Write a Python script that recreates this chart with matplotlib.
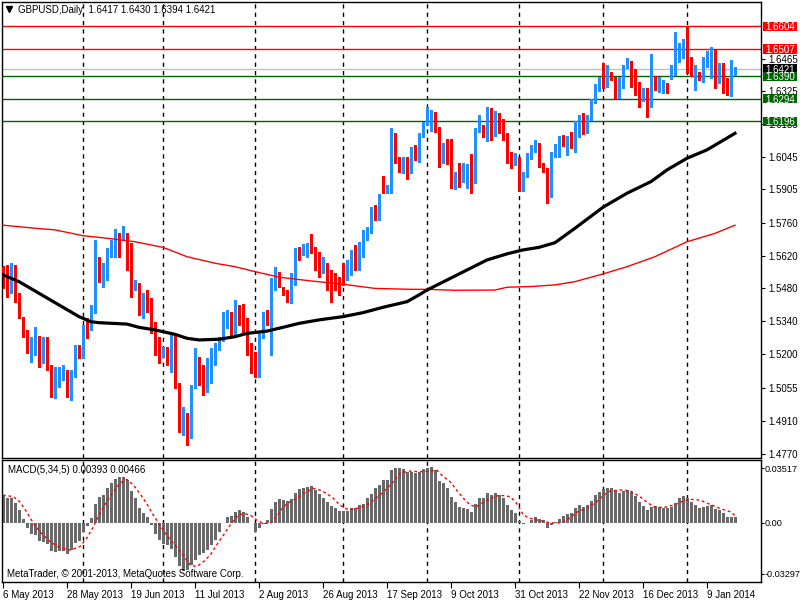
import matplotlib
matplotlib.use("Agg")
import matplotlib.pyplot as plt
import matplotlib.transforms as mtransforms
from matplotlib.patches import Rectangle
import numpy as np

plt.rcParams['font.family'] = ['Liberation Sans', 'DejaVu Sans']
plt.rcParams['font.size'] = 7
plt.rcParams['axes.unicode_minus'] = False

# daily GBPUSD candles, 6 May 2013 .. 20 Jan 2014
opens = [1.5573, 1.5538, 1.5473, 1.5538, 1.5445, 1.5349, 1.5297, 1.5209, 1.5216, 1.5273,
         1.5173, 1.5252, 1.5147, 1.5037, 1.5095, 1.5097, 1.5109, 1.5023, 1.5123, 1.5226,
         1.5190, 1.5313, 1.5309, 1.5399, 1.5580, 1.5533, 1.5566, 1.5642, 1.5673, 1.5713,
         1.5705, 1.5713, 1.5638, 1.5485, 1.5499, 1.5373, 1.5430, 1.5423, 1.5309, 1.5256,
         1.5202, 1.5194, 1.5144, 1.5273, 1.5066, 1.4873, 1.4940, 1.4859, 1.5056, 1.5176,
         1.5106, 1.5095, 1.5142, 1.5204, 1.5223, 1.5266, 1.5352, 1.5370, 1.5309, 1.5383,
         1.5377, 1.5337, 1.5230, 1.5198, 1.5109, 1.5280, 1.5352, 1.5345, 1.5485, 1.5533,
         1.5473, 1.5459, 1.5440, 1.5499, 1.5642, 1.5624, 1.5642, 1.5659, 1.5656, 1.5585,
         1.5566, 1.5577, 1.5545, 1.5528, 1.5505, 1.5555, 1.5538, 1.5552, 1.5621, 1.5580,
         1.5621, 1.5691, 1.5723, 1.5821, 1.5802, 1.5949, 1.5891, 1.5902, 1.6138, 1.6026,
         1.5995, 1.6038, 1.5998, 1.6074, 1.6031, 1.6138, 1.6181, 1.6188, 1.6231, 1.6159,
         1.6021, 1.6092, 1.6084, 1.5949, 1.5974, 1.5964, 1.5974, 1.5995, 1.5949, 1.6159,
         1.6169, 1.6142, 1.6231, 1.6159, 1.6198, 1.6174, 1.6138, 1.6045, 1.6031, 1.6038,
         1.5921, 1.5962, 1.6038, 1.6076, 1.6099, 1.6002, 1.5988, 1.5899, 1.6052, 1.6059,
         1.6119, 1.6099, 1.6116, 1.6102, 1.6174, 1.6224, 1.6149, 1.6209, 1.6284, 1.6334,
         1.6369, 1.6345, 1.6388, 1.6384, 1.6331, 1.6342, 1.6431, 1.6448, 1.6374, 1.6352,
         1.6291, 1.6295, 1.6259, 1.6388, 1.6334, 1.6334, 1.6357, 1.6384, 1.6407, 1.6474,
         1.6495, 1.6567, 1.6452, 1.6400, 1.6405, 1.6400, 1.6441, 1.6477, 1.6485, 1.6381,
         1.6438, 1.6369, 1.6348, 1.6417]
highs = [1.5576, 1.5580, 1.5588, 1.5580, 1.5459, 1.5359, 1.5302, 1.5273, 1.5316, 1.5276,
         1.5273, 1.5273, 1.5152, 1.5144, 1.5144, 1.5152, 1.5130, 1.5130, 1.5237, 1.5237,
         1.5323, 1.5352, 1.5409, 1.5688, 1.5616, 1.5588, 1.5652, 1.5688, 1.5733, 1.5716,
         1.5748, 1.5716, 1.5673, 1.5516, 1.5502, 1.5459, 1.5473, 1.5440, 1.5337, 1.5273,
         1.5230, 1.5230, 1.5280, 1.5280, 1.5073, 1.4973, 1.4944, 1.5066, 1.5223, 1.5187,
         1.5152, 1.5180, 1.5223, 1.5245, 1.5273, 1.5380, 1.5387, 1.5380, 1.5430, 1.5409,
         1.5413, 1.5352, 1.5245, 1.5209, 1.5295, 1.5380, 1.5387, 1.5523, 1.5573, 1.5552,
         1.5488, 1.5473, 1.5545, 1.5652, 1.5656, 1.5671, 1.5673, 1.5713, 1.5659, 1.5638,
         1.5616, 1.5590, 1.5559, 1.5548, 1.5530, 1.5588, 1.5602, 1.5645, 1.5666, 1.5680,
         1.5731, 1.5745, 1.5831, 1.5838, 1.5885, 1.5962, 1.5924, 1.6166, 1.6148, 1.6045,
         1.6045, 1.6045, 1.6088, 1.6095, 1.6145, 1.6195, 1.6257, 1.6245, 1.6238, 1.6174,
         1.6102, 1.6119, 1.6119, 1.5981, 1.6016, 1.6016, 1.6012, 1.6056, 1.6166, 1.6224,
         1.6181, 1.6257, 1.6252, 1.6242, 1.6231, 1.6207, 1.6145, 1.6066, 1.6059, 1.6045,
         1.5981, 1.6059, 1.6095, 1.6116, 1.6102, 1.6016, 1.5995, 1.6066, 1.6099, 1.6134,
         1.6138, 1.6134, 1.6152, 1.6199, 1.6224, 1.6234, 1.6224, 1.6291, 1.6357, 1.6388,
         1.6445, 1.6438, 1.6409, 1.6388, 1.6385, 1.6438, 1.6467, 1.6455, 1.6420, 1.6367,
         1.6338, 1.6338, 1.6485, 1.6391, 1.6388, 1.6374, 1.6359, 1.6438, 1.6581, 1.6531,
         1.6548, 1.6602, 1.6471, 1.6438, 1.6409, 1.6471, 1.6500, 1.6517, 1.6505, 1.6445,
         1.6445, 1.6381, 1.6460, 1.6430]
lows = [1.5480, 1.5445, 1.5459, 1.5423, 1.5352, 1.5273, 1.5202, 1.5166, 1.5194, 1.5144,
        1.5159, 1.5130, 1.5016, 1.5009, 1.5059, 1.5087, 1.5016, 1.5002, 1.5102, 1.5180,
        1.5180, 1.5266, 1.5302, 1.5373, 1.5509, 1.5488, 1.5516, 1.5616, 1.5616, 1.5613,
        1.5688, 1.5559, 1.5445, 1.5473, 1.5366, 1.5352, 1.5380, 1.5287, 1.5194, 1.5159,
        1.5187, 1.5152, 1.5123, 1.5051, 1.4866, 1.4851, 1.4809, 1.4837, 1.5051, 1.5066,
        1.5023, 1.5037, 1.5073, 1.5152, 1.5216, 1.5256, 1.5309, 1.5273, 1.5280, 1.5323,
        1.5287, 1.5194, 1.5116, 1.5102, 1.5102, 1.5266, 1.5323, 1.5194, 1.5473, 1.5488,
        1.5452, 1.5423, 1.5416, 1.5495, 1.5602, 1.5624, 1.5616, 1.5630, 1.5559, 1.5530,
        1.5545, 1.5473, 1.5423, 1.5473, 1.5452, 1.5495, 1.5516, 1.5538, 1.5559, 1.5559,
        1.5616, 1.5688, 1.5716, 1.5773, 1.5773, 1.5888, 1.5888, 1.5888, 1.6016, 1.5981,
        1.5974, 1.5949, 1.5976, 1.6031, 1.6021, 1.6131, 1.6181, 1.6155, 1.6152, 1.6002,
        1.6016, 1.6014, 1.5909, 1.5906, 1.5914, 1.5938, 1.5909, 1.5891, 1.5933, 1.6152,
        1.6131, 1.6112, 1.6116, 1.6134, 1.6145, 1.6116, 1.6019, 1.5995, 1.6009, 1.5899,
        1.5899, 1.5959, 1.6034, 1.6066, 1.6002, 1.5981, 1.5848, 1.5873, 1.6045, 1.6045,
        1.6091, 1.6052, 1.6081, 1.6066, 1.6131, 1.6142, 1.6145, 1.6202, 1.6274, 1.6328,
        1.6338, 1.6342, 1.6374, 1.6295, 1.6295, 1.6338, 1.6424, 1.6342, 1.6309, 1.6259,
        1.6285, 1.6217, 1.6257, 1.6331, 1.6324, 1.6317, 1.6319, 1.6377, 1.6395, 1.6452,
        1.6467, 1.6402, 1.6391, 1.6331, 1.6374, 1.6367, 1.6431, 1.6381, 1.6338, 1.6359,
        1.6319, 1.6309, 1.6305, 1.6394]
closes = [1.5530, 1.5459, 1.5538, 1.5452, 1.5359, 1.5295, 1.5212, 1.5223, 1.5273, 1.5159,
          1.5252, 1.5144, 1.5037, 1.5102, 1.5119, 1.5123, 1.5026, 1.5116, 1.5230, 1.5190,
          1.5316, 1.5306, 1.5405, 1.5580, 1.5552, 1.5569, 1.5642, 1.5676, 1.5716, 1.5702,
          1.5716, 1.5635, 1.5485, 1.5502, 1.5409, 1.5430, 1.5416, 1.5302, 1.5252, 1.5202,
          1.5213, 1.5173, 1.5273, 1.5066, 1.4880, 1.4940, 1.4859, 1.5059, 1.5180, 1.5102,
          1.5090, 1.5144, 1.5213, 1.5226, 1.5266, 1.5352, 1.5366, 1.5316, 1.5377, 1.5373,
          1.5337, 1.5230, 1.5194, 1.5109, 1.5287, 1.5352, 1.5345, 1.5488, 1.5530, 1.5495,
          1.5456, 1.5440, 1.5502, 1.5642, 1.5621, 1.5645, 1.5662, 1.5652, 1.5577, 1.5562,
          1.5577, 1.5538, 1.5523, 1.5495, 1.5499, 1.5538, 1.5555, 1.5619, 1.5580, 1.5628,
          1.5692, 1.5731, 1.5821, 1.5805, 1.5871, 1.5891, 1.5906, 1.6135, 1.6024, 1.6002,
          1.6038, 1.5995, 1.6076, 1.6035, 1.6138, 1.6185, 1.6192, 1.6228, 1.6159, 1.6006,
          1.6088, 1.6078, 1.5949, 1.5971, 1.5949, 1.5981, 1.5998, 1.5949, 1.6159, 1.6166,
          1.6138, 1.6228, 1.6159, 1.6205, 1.6159, 1.6134, 1.6041, 1.6031, 1.6045, 1.5921,
          1.5969, 1.6045, 1.6081, 1.6102, 1.6006, 1.5985, 1.5902, 1.6056, 1.6062, 1.6116,
          1.6105, 1.6119, 1.6099, 1.6195, 1.6217, 1.6152, 1.6217, 1.6284, 1.6342, 1.6369,
          1.6352, 1.6385, 1.6378, 1.6334, 1.6338, 1.6431, 1.6442, 1.6374, 1.6352, 1.6292,
          1.6298, 1.6259, 1.6388, 1.6374, 1.6374, 1.6355, 1.6345, 1.6407, 1.6470, 1.6495,
          1.6531, 1.6409, 1.6400, 1.6405, 1.6400, 1.6445, 1.6481, 1.6481, 1.6381, 1.6438,
          1.6367, 1.6348, 1.6409, 1.6421]

# moving averages, read at sample bars
ma_black_bars = [0, 4, 9, 14, 19, 22, 24, 31, 34, 38, 43, 46, 49, 54, 58, 61, 66, 69, 74, 79,
                 85, 90, 95, 101, 104, 106, 111, 116, 121, 126, 130, 134, 138, 143, 150, 156,
                 162, 166, 171, 176, 183]
ma_black = [1.5538, 1.5509, 1.5459, 1.5409, 1.5359, 1.5337, 1.5333, 1.5327, 1.5313, 1.5302,
            1.5283, 1.5266, 1.5259, 1.5262, 1.5273, 1.5287, 1.5297, 1.5309, 1.5330, 1.5345,
            1.5359, 1.5376, 1.5399, 1.5423, 1.5452, 1.5473, 1.5516, 1.5559, 1.5602, 1.5628,
            1.5645, 1.5656, 1.5676, 1.5738, 1.5828, 1.5888, 1.5938, 1.5988, 1.6038, 1.6074,
            1.6145]
ma_red_bars = [0, 8, 13, 20, 26, 33, 40, 46, 53, 58, 63, 67, 69, 77, 85, 93, 102, 106, 113, 123,
               126, 132, 138, 143, 150, 156, 163, 171, 178, 183]
ma_red = [1.5751, 1.5738, 1.5731, 1.5706, 1.5695, 1.5680, 1.5656, 1.5616, 1.5588, 1.5573,
          1.5552, 1.5536, 1.5528, 1.5512, 1.5498, 1.5480, 1.5476, 1.5476, 1.5472, 1.5473,
          1.5485, 1.5488, 1.5495, 1.5509, 1.5542, 1.5573, 1.5616, 1.5680, 1.5716, 1.5751]

# MACD(5,34,5)
macd_hist = [0.0178, 0.0161, 0.0161, 0.0125, 0.0082, 0.0022, -0.0037, -0.0073, -0.0080, -0.0116,
             -0.0127, -0.0140, -0.0183, -0.0187, -0.0183, -0.0183, -0.0200, -0.0176, -0.0133, -0.0118,
             -0.0058, -0.0022, 0.0028, 0.0118, 0.0168, 0.0178, 0.0226, 0.0254, 0.0282, 0.0292,
             0.0292, 0.0275, 0.0204, 0.0157, 0.0092, 0.0060, 0.0037, -0.0015, -0.0073, -0.0112,
             -0.0140, -0.0144, -0.0170, -0.0219, -0.0280, -0.0312, -0.0305, -0.0273, -0.0241, -0.0209,
             -0.0198, -0.0176, -0.0144, -0.0112, -0.0058, -0.0005, 0.0039, 0.0043, 0.0067, 0.0082,
             0.0071, 0.0039, -0.0004, -0.0062, -0.0032, -0.0011, 0.0017, 0.0088, 0.0135, 0.0151,
             0.0146, 0.0142, 0.0151, 0.0194, 0.0215, 0.0221, 0.0232, 0.0237, 0.0211, 0.0183,
             0.0161, 0.0135, 0.0108, 0.0092, 0.0075, 0.0075, 0.0075, 0.0092, 0.0097, 0.0114,
             0.0118, 0.0157, 0.0183, 0.0221, 0.0243, 0.0275, 0.0275, 0.0340, 0.0355, 0.0350,
             0.0344, 0.0325, 0.0329, 0.0318, 0.0329, 0.0346, 0.0355, 0.0361, 0.0340, 0.0269,
             0.0254, 0.0226, 0.0163, 0.0135, 0.0103, 0.0092, 0.0088, 0.0071, 0.0120, 0.0157,
             0.0161, 0.0189, 0.0178, 0.0189, 0.0178, 0.0157, 0.0114, 0.0082, 0.0060, 0.0011,
             -0.0011, -0.0004, 0.0015, 0.0034, 0.0024, 0.0015, -0.0037, -0.0015, 0.0002, 0.0022,
             0.0043, 0.0054, 0.0060, 0.0092, 0.0114, 0.0103, 0.0114, 0.0142, 0.0178, 0.0200,
             0.0217, 0.0221, 0.0221, 0.0211, 0.0189, 0.0204, 0.0211, 0.0196, 0.0174, 0.0135,
             0.0108, 0.0082, 0.0103, 0.0110, 0.0103, 0.0097, 0.0092, 0.0099, 0.0129, 0.0157,
             0.0174, 0.0161, 0.0135, 0.0114, 0.0092, 0.0103, 0.0108, 0.0114, 0.0086, 0.0082,
             0.0060, 0.0034, 0.0039, 0.00393]
signal_bars = [0, 2.6, 4.2, 5.9, 7.6, 9.2, 11.8, 14.2, 16.8, 19.2, 20.9, 22.6, 24.2, 25.9, 27.6,
               29.2, 30.9, 32.6, 34.2, 35.9, 37.6, 39.2, 40.9, 42.6, 44.7, 46.8, 48.4, 50.1, 51.8,
               53.4, 55.1, 56.8, 58.4, 60.1, 61.8, 63.4, 65.1, 66.8, 68.4, 70.1, 71.8, 73.4, 75.1,
               77.6, 79.2, 80.9, 82.6, 84.2, 85.9, 87.6, 89.2, 90.9, 92.6, 94.2, 95.9, 97.6, 99.2,
               101.8, 104.2, 106.8, 108.4, 110.1, 111.8, 113.4, 115.1, 116.8, 118.4, 120.1, 121.8,
               124.2, 126.8, 128.4, 130.1, 131.8, 134.2, 136.8, 138.4, 140.1, 141.8, 143.4, 145.9,
               148.4, 150.1, 151.8, 154.2, 156.8, 159.2, 160.9, 162.6, 165.1, 167.6, 170.1, 171.8,
               174.2, 176.8, 179.2, 181.8, 183]
signal = [0.0178, 0.0168, 0.0135, 0.0071, -0.0004, -0.0058, -0.0123, -0.0161, -0.0176, -0.0155,
          -0.0101, -0.0026, 0.0060, 0.0135, 0.0200, 0.0254, 0.0280, 0.0243, 0.0189, 0.0125,
          0.0049, -0.0015, -0.0080, -0.0133, -0.0198, -0.0273, -0.0284, -0.0252, -0.0209, -0.0144,
          -0.0080, -0.0015, 0.0039, 0.0060, 0.0049, 0.0017, -0.0004, -0.0004, 0.0039, 0.0103,
          0.0135, 0.0157, 0.0189, 0.0221, 0.0211, 0.0189, 0.0157, 0.0114, 0.0088, 0.0088,
          0.0097, 0.0114, 0.0146, 0.0178, 0.0221, 0.0264, 0.0320,
          0.0333, 0.0329, 0.0333, 0.0340, 0.0297, 0.0264, 0.0211, 0.0157, 0.0114, 0.0103,
          0.0131, 0.0157, 0.0178, 0.0168, 0.0125, 0.0049, 0.0028, 0.0013, 0.0000, -0.0004,
          0.0006, 0.0032, 0.0067, 0.0092, 0.0135, 0.0178, 0.0204, 0.0211, 0.0206, 0.0168,
          0.0135, 0.0103, 0.0097, 0.0114, 0.0140, 0.0151, 0.0146, 0.0118, 0.0092, 0.0071,
          0.00466]

# horizontal levels drawn on the chart
level_values = [1.6604, 1.6507, 1.6390, 1.6294, 1.6196]
level_colors = ['#FF0000', '#FF0000', '#006400', '#006400', '#006400']
last_price = 1.6421

price_ticks = [1.6465, 1.6325, 1.6185, 1.6045, 1.5905, 1.5760, 1.5620, 1.5480,
               1.5340, 1.5200, 1.5055, 1.4910, 1.4770]
macd_ticks = [0.03517, 0.0, -0.03297]
macd_tick_labels = ['0.03517', '0.00', '-0.03297']

month_start_bars = [20, 40, 63, 85, 106, 129, 150, 171]
date_bars = [0, 16, 32, 48, 64, 80, 96, 112, 128, 144, 160, 176]
date_labels = ['6 May 2013', '28 May 2013', '19 Jun 2013', '11 Jul 2013', '2 Aug 2013',
               '26 Aug 2013', '17 Sep 2013', '9 Oct 2013', '31 Oct 2013', '22 Nov 2013',
               '16 Dec 2013', '9 Jan 2014']

UP = '#1E90FF'
DOWN = '#FF0000'

fig = plt.figure(figsize=(8, 6), dpi=100)
ax = fig.add_axes([2 / 800, 142 / 600, 759 / 800, 456 / 600])
axm = fig.add_axes([2 / 800, 18 / 600, 759 / 800, 122 / 600])

o = np.array(opens)
h = np.array(highs)
l = np.array(lows)
c = np.array(closes)
x = np.arange(len(o))
cols = np.where(c >= o, UP, DOWN)

# levels behind the candles
for v, col in zip(level_values, level_colors):
    ax.axhline(v, color=col, lw=1, zorder=1)
ax.axhline(last_price, color='#C0C0C0', lw=1, zorder=1)

for b in month_start_bars:
    for a in (ax, axm):
        a.axvline(b, color='black', lw=1, ls=(0, (3, 3)), zorder=0.5)

ax.vlines(x, l, h, colors=cols, lw=1, zorder=2, antialiased=False)
body_lo = np.minimum(o, c)
body_h = np.maximum(np.abs(c - o), 0.0004)
ax.bar(x, body_h, bottom=body_lo, width=0.75, color=cols, linewidth=0, zorder=3,
       antialiased=False)

ax.plot(ma_red_bars, ma_red, color='#FF0000', lw=1, zorder=4)
ax.plot(ma_black_bars, ma_black, color='black', lw=2.3, zorder=4)

ax.set_xlim(-0.25, 189.5)
ax.set_ylim(1.47528, 1.6708)
ax.yaxis.tick_right()
ax.set_yticks(price_ticks)
ax.set_yticklabels([f'{v:.4f}' for v in price_ticks])
ax.tick_params(axis='y', direction='out', length=3, pad=2, labelsize=7)
ax.tick_params(axis='x', bottom=False, labelbottom=False)

# price boxes on the right scale
trans = mtransforms.blended_transform_factory(ax.transAxes, ax.transData)
boxes = [(last_price, 'black')] + list(zip(level_values, level_colors))
for v, col in boxes:
    ax.add_patch(Rectangle((1.0022, v - 0.0020), 0.0453, 0.0040, transform=trans,
                           facecolor=col, edgecolor='none', clip_on=False, zorder=6))
    ax.text(1.0058, v, f'{v:.4f}', transform=trans, color='white', ha='left',
            va='center_baseline', fontsize=7, zorder=7, clip_on=False)

# header
ax.plot([0.0095], [0.9848], marker='v', color='black', markersize=4.5,
        transform=ax.transAxes, clip_on=False)
fig.text(18 / 800, 1 - 10 / 600, 'GBPUSD,Daily  1.6417 1.6430 1.6394 1.6421',
         ha='left', va='center', fontsize=7)

# MACD window
axm.bar(x, macd_hist, width=0.75, color='#696969', linewidth=0, zorder=2, antialiased=False)
axm.plot(signal_bars, signal, color='#FF0000', lw=1, ls=(0, (2, 2)), zorder=3)
axm.set_xlim(-0.25, 189.5)
axm.set_ylim(-0.03826, 0.04045)
axm.yaxis.tick_right()
axm.set_yticks(macd_ticks)
axm.set_yticklabels(macd_tick_labels)
axm.tick_params(axis='y', direction='out', length=2, pad=0.5, labelsize=6.6)
axm.set_xticks(date_bars)
axm.set_xticklabels(date_labels)
axm.tick_params(axis='x', direction='out', length=4, pad=2, labelsize=7)
for lbl in axm.get_xticklabels():
    lbl.set_ha('left')

fig.text(8 / 800, 1 - 470 / 600, 'MACD(5,34,5) 0.00393 0.00466', ha='left', va='center',
         fontsize=7)
fig.text(7 / 800, 1 - 574 / 600, 'MetaTrader, \u00a9 2001-2013, MetaQuotes Software Corp.',
         ha='left', va='center', fontsize=7)

for a in (ax, axm):
    for s in a.spines.values():
        s.set_linewidth(1)
        s.set_color('black')

fig.savefig('out.png', dpi=100, facecolor='white')
